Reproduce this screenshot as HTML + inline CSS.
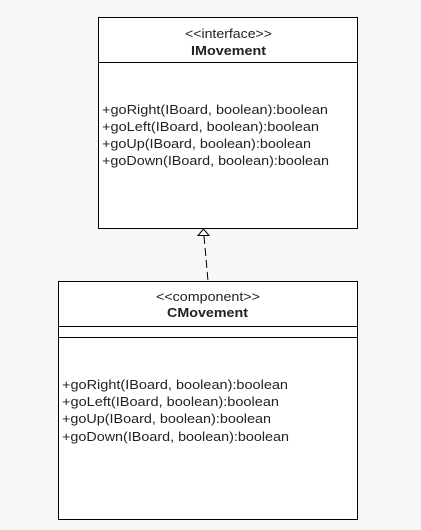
<!DOCTYPE html>
<html><head><style>html,body{margin:0;padding:0;background:#f7f7f7;}svg{display:block}</style></head>
<body>
<svg width="421" height="530" xmlns="http://www.w3.org/2000/svg" font-family="Liberation Sans, Arial, sans-serif" font-size="13" fill="#000">
<rect x="0" y="0" width="421" height="530" fill="#f7f7f7"/>
<rect x="98.5" y="17.5" width="259" height="211" fill="#fff" stroke="#000" stroke-width="1"/>
<line x1="98.5" y1="62.5" x2="357.5" y2="62.5" stroke="#000"/>
<text x="185" y="38" textLength="87" lengthAdjust="spacingAndGlyphs" fill="#222">&lt;&lt;interface&gt;&gt;</text>
<text x="191" y="55" textLength="75" lengthAdjust="spacingAndGlyphs" font-weight="bold" fill="#222">IMovement</text>
<g fill="#222">
<text x="102" y="114" textLength="226" lengthAdjust="spacingAndGlyphs">+goRight(IBoard, boolean):boolean</text>
<text x="102" y="131" textLength="217" lengthAdjust="spacingAndGlyphs">+goLeft(IBoard, boolean):boolean</text>
<text x="102" y="148" textLength="209" lengthAdjust="spacingAndGlyphs">+goUp(IBoard, boolean):boolean</text>
<text x="102" y="165" textLength="227" lengthAdjust="spacingAndGlyphs">+goDown(IBoard, boolean):boolean</text>
</g>
<rect x="58.5" y="281.5" width="299" height="238" fill="#fff" stroke="#000" stroke-width="1"/>
<line x1="58.5" y1="326.5" x2="357.5" y2="326.5" stroke="#000"/>
<line x1="58.5" y1="337.5" x2="357.5" y2="337.5" stroke="#000"/>
<text x="156" y="301" textLength="104" lengthAdjust="spacingAndGlyphs" fill="#222">&lt;&lt;component&gt;&gt;</text>
<text x="167" y="317" textLength="81" lengthAdjust="spacingAndGlyphs" font-weight="bold" fill="#222">CMovement</text>
<g fill="#222">
<text x="62" y="389" textLength="226" lengthAdjust="spacingAndGlyphs">+goRight(IBoard, boolean):boolean</text>
<text x="62" y="406" textLength="217" lengthAdjust="spacingAndGlyphs">+goLeft(IBoard, boolean):boolean</text>
<text x="62" y="423" textLength="209" lengthAdjust="spacingAndGlyphs">+goUp(IBoard, boolean):boolean</text>
<text x="62" y="441" textLength="227" lengthAdjust="spacingAndGlyphs">+goDown(IBoard, boolean):boolean</text>
</g>
<polygon points="203.5,229 198,235.5 209,235.5" fill="#fff" stroke="#000" stroke-width="1"/>
<line x1="204" y1="236" x2="208" y2="281" stroke="#000" stroke-dasharray="8,4"/>
</svg>
</body></html>
